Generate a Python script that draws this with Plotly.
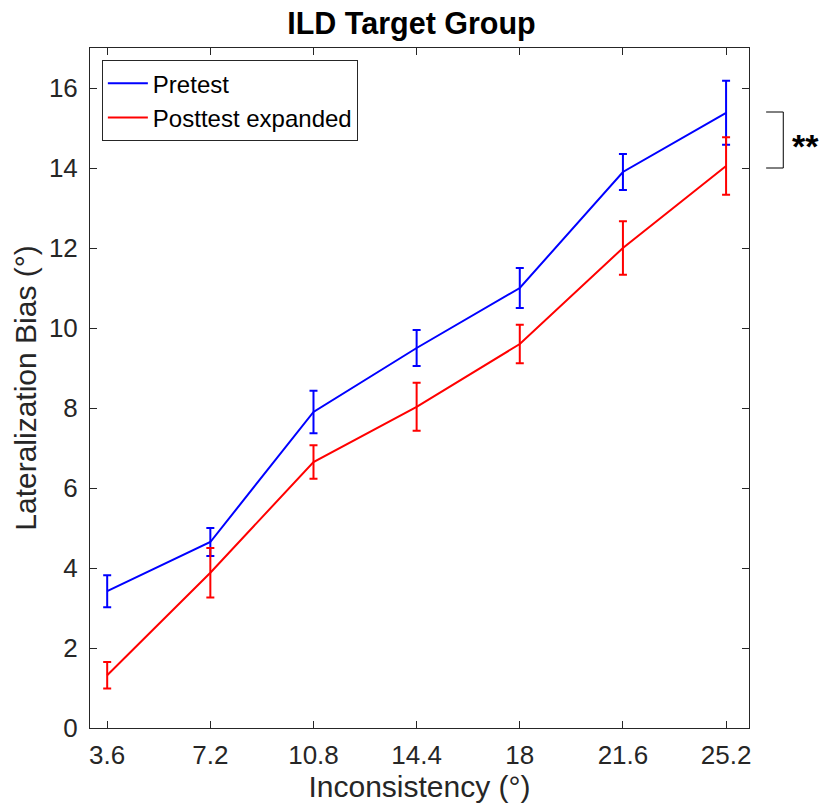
import plotly.graph_objects as go

x_vals = [3.6, 7.2, 10.8, 14.4, 18, 21.6, 25.2]
x_ticklabels = ["3.6", "7.2", "10.8", "14.4", "18", "21.6", "25.2"]
pre_mean = [3.42, 4.65, 7.9, 9.5, 11.0, 13.9, 15.38]
pre_err = [0.4, 0.35, 0.53, 0.45, 0.5, 0.45, 0.8]
post_mean = [1.32, 3.88, 6.65, 8.03, 9.6, 12.0, 14.05]
post_err = [0.33, 0.62, 0.42, 0.6, 0.48, 0.67, 0.72]
y_ticks = [0, 2, 4, 6, 8, 10, 12, 14, 16]
sig_top, sig_bottom = 15.4, 14.0

FONT = "Liberation Sans, Arial, sans-serif"

fig = go.Figure()
fig.add_trace(go.Scatter(
    x=x_vals, y=pre_mean, mode="lines", name="Pretest",
    line=dict(color="#0000FF", width=2),
    error_y=dict(type="data", array=pre_err, color="#0000FF", thickness=2, width=4),
))
fig.add_trace(go.Scatter(
    x=x_vals, y=post_mean, mode="lines", name="Posttest expanded",
    line=dict(color="#FF0000", width=2),
    error_y=dict(type="data", array=post_err, color="#FF0000", thickness=2, width=4),
))

axis_common = dict(
    showline=True, linecolor="#262626", linewidth=1, mirror="ticks",
    ticks="inside", ticklen=7, tickcolor="#262626", tickwidth=1,
    showgrid=False, zeroline=False,
    tickfont=dict(family=FONT, size=26, color="#262626"),
)

fig.update_layout(
    width=823, height=809,
    margin=dict(l=90, r=74, t=48, b=81),
    paper_bgcolor="white", plot_bgcolor="white",
    title=dict(text="<b>ILD Target Group</b>", x=0.5, xanchor="center",
               y=1 - 23 / 809, yanchor="middle",
               font=dict(family=FONT, size=30.5, color="black")),
    xaxis=dict(range=[3.0, 26.0], tickvals=x_vals, ticktext=x_ticklabels,
               ticklabelstandoff=4,
               title=dict(text="Inconsistency (°)", standoff=4,
                          font=dict(family=FONT, size=30, color="#262626")),
               **axis_common),
    yaxis=dict(range=[0, 17], tickvals=y_ticks, ticklabelstandoff=6,
               title=dict(text="Lateralization Bias (°)", standoff=3,
                          font=dict(family=FONT, size=30, color="#262626")),
               **axis_common),
    legend=dict(x=0.018, y=0.982, xanchor="left", yanchor="top",
                bgcolor="white", bordercolor="#262626", borderwidth=1,
                font=dict(family=FONT, size=24, color="black"),
                tracegroupgap=0, itemwidth=40),
    showlegend=True,
)

# significance bracket
fig.add_shape(type="line", xref="paper", yref="y", x0=1.026, x1=1.052,
              y0=sig_top, y1=sig_top, line=dict(color="black", width=1))
fig.add_shape(type="line", xref="paper", yref="y", x0=1.052, x1=1.052,
              y0=sig_top, y1=sig_bottom, line=dict(color="black", width=1))
fig.add_shape(type="line", xref="paper", yref="y", x0=1.026, x1=1.052,
              y0=sig_bottom, y1=sig_bottom, line=dict(color="black", width=1))
fig.add_annotation(xref="paper", yref="y", x=1.062, y=(sig_top + sig_bottom) / 2,
                   text="<b>**</b>", showarrow=False, xanchor="left", yshift=-6,
                   font=dict(family=FONT, size=34, color="black"))

fig.write_html("out.html")
